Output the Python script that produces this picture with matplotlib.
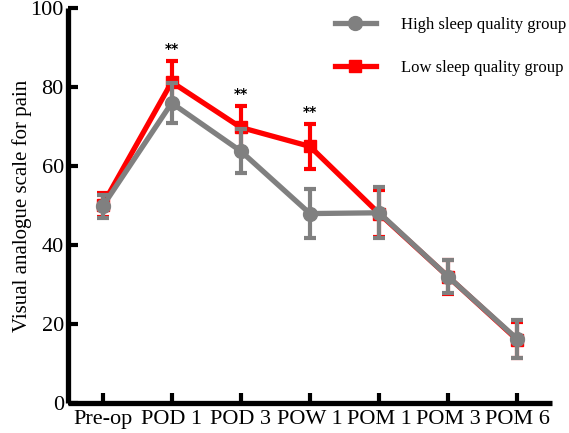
import numpy as np
import matplotlib.pyplot as plt
from matplotlib.lines import Line2D

plt.rcParams['font.family'] = ['Liberation Serif', 'DejaVu Serif']

# Data
timepoints = ['Pre-op', 'POD 1', 'POD 3', 'POW 1', 'POM 1', 'POM 3', 'POM 6']
high_mean = [49.8, 76.0, 63.8, 48.0, 48.2, 32.0, 16.2]
high_err = [2.8, 5.0, 5.5, 6.2, 6.5, 4.2, 4.8]
low_mean = [50.2, 81.3, 69.8, 65.0, 48.0, 32.0, 16.0]
low_err = [3.0, 5.3, 5.5, 5.8, 6.0, 4.3, 4.5]
signif = ['', '**', '**', '**', '', '', '']

x = np.arange(len(timepoints))

fig = plt.figure(figsize=(5.69, 4.33), dpi=100)
ax = fig.add_axes([0.1195, 0.069, 0.8505, 0.912])

red = '#ff0000'
gray = '#808080'

ax.errorbar(x, low_mean, yerr=low_err, color=red, lw=3.8, marker='s', ms=9,
            elinewidth=3, capsize=4.5, capthick=3, zorder=2)
ax.errorbar(x, high_mean, yerr=high_err, color=gray, lw=3.8, marker='o', ms=10,
            elinewidth=3, capsize=4.5, capthick=3, zorder=3)

for xi, m, e, s in zip(x, low_mean, low_err, signif):
    if s:
        ax.text(xi, m + e + 1.2, s, ha='center', va='bottom', fontsize=10,
                fontweight='bold', family='DejaVu Sans')

ax.set_xlim(-0.5, 6.5)
ax.set_ylim(0, 100)
ax.set_yticks([0, 20, 40, 60, 80, 100])
ax.set_xticks(x)
ax.set_xticklabels(timepoints)
ax.tick_params(axis='both', width=3, length=7, labelsize=16, direction='in')
ax.tick_params(axis='x', pad=5)
ax.tick_params(axis='y', pad=3)
for side in ['top', 'right']:
    ax.spines[side].set_visible(False)
for side in ['left', 'bottom']:
    ax.spines[side].set_linewidth(3.8)
    ax.spines[side].set_capstyle('butt')

ax.set_ylabel('Visual analogue scale for pain', fontsize=15)
ax.yaxis.set_label_coords(-0.075, 0.5)

handles = [Line2D([], [], color=gray, lw=3.8, marker='o', ms=10),
           Line2D([], [], color=red, lw=3.8, marker='s', ms=9)]
labels = ['High sleep quality group', 'Low sleep quality group']
ax.legend(handles, labels, frameon=False, fontsize=12,
          loc='upper left', bbox_to_anchor=(0.52, 1.015), handlelength=2.5,
          labelspacing=1.6, handletextpad=1.5)

fig.savefig('out.png', dpi=100)
plt.close()
